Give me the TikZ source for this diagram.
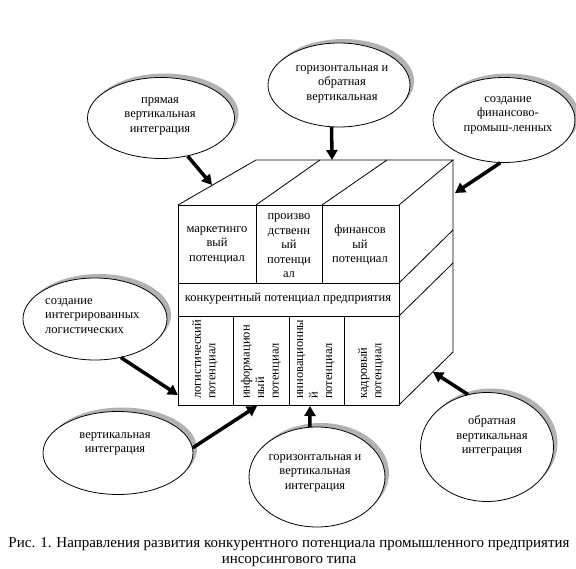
\documentclass[tikz,border=0pt]{standalone}
\usepackage{fontspec}
\setmainfont{Liberation Serif}
\usetikzlibrary{shapes.geometric,shadows,arrows.meta}

\begin{document}
\begin{tikzpicture}[x=1pt,y=-1pt,
  bubble/.style={ellipse,draw,line width=0.8pt,fill=white,inner sep=0pt,
    drop shadow={shadow xshift=4pt,shadow yshift=4pt,fill=gray!60,opacity=1}},
  bubbletext/.style={font=\fontsize{12.5}{14.5}\selectfont,align=center,inner sep=0pt},
  celltext/.style={font=\fontsize{12.5}{14.5}\selectfont,align=center,inner sep=0pt},
  upright/.style={celltext,align=left,rotate=90,anchor=west},
  push/.style={line width=3.5pt,-{Triangle[length=10pt,width=11pt]}}]

  \useasboundingbox (0,0) rectangle (576,569);

  \pgfmathsetmacro\fl{178}   % front face, left and right
  \pgfmathsetmacro\fr{399}
  \pgfmathsetmacro\ft{205}   % front face, top and bottom
  \pgfmathsetmacro\fb{405}
  \pgfmathsetmacro\ra{283}   % row borders on the front
  \pgfmathsetmacro\rb{316}
  \pgfmathsetmacro\bt{160}   % back edge of the top face
  \pgfmathsetmacro\bl{256}
  \pgfmathsetmacro\br{453}

% front face
  \draw[line width=0.8pt] (\fl,\ft) rectangle (\fr,\fb);
  \draw[line width=0.8pt] (\fl,\ra) -- (\fr,\ra);
  \draw[line width=0.8pt] (\fl,\rb) -- (\fr,\rb);
  \draw[line width=0.8pt] (256,\ft) -- (256,\ra);
  \draw[line width=0.8pt] (322,\ft) -- (322,\ra);
  \draw[line width=0.8pt] (233,\rb) -- (233,\fb);
  \draw[line width=0.8pt] (289,\rb) -- (289,\fb);
  \draw[line width=0.8pt] (344,\rb) -- (344,\fb);

% top face
  \draw[line width=0.8pt] (\fl,\ft) -- (\bl,\bt) -- (\br,\bt) -- (\fr,\ft);
  \draw[line width=0.8pt] (256,\ft) -- (320,\bt);
  \draw[line width=0.8pt] (322,\ft) -- (387,\bt);

% side face
  \draw[line width=0.8pt] (\br,\bt) -- (\br,352) -- (\fr,\fb);
  \draw[line width=0.8pt] (\fr,\ra) -- (\br,230);
  \draw[line width=0.8pt] (\fr,\rb) -- (\br,263);

% texts on the cube
  \node[celltext] (mark) at (217,245) {маркетинго\\вый\\потенциал};
  \node[celltext] (prod) at (289,246) {произво\\дственн\\ый\\потенци\\ал};
  \node[celltext] (fin)  at (360,245) {финансов\\ый\\потенциал};
  \node[celltext] (konk) at (288,299) {конкурентный потенциал предприятия};
  \node[upright]  (log)  at (205,399) {логистический\\потенциал};
  \node[upright]  (inf)  at (261,399) {информацион\\ный\\потенциал};
  \node[upright]  (inn)  at (316,399) {инновационны\\й\\потенциал};
  \node[upright]  (kadr) at (371,399) {кадровый\\потенциал};

% arrow ends on the cube
  \coordinate (tpryam) at (212,185);
  \coordinate (tgoriz) at (332,160);
  \coordinate (tfin)   at (455,193);
  \coordinate (tlog)   at (178,395);
  \coordinate (tvert)  at (257,406);
  \coordinate (tgv)    at (310,406);
  \coordinate (tobr)   at (433,372);

% directions
  \node[bubble,minimum width=147pt,minimum height=81pt] (pryam) at (161,118) {};
  \node[bubbletext] (pryamtext) at (160,116) {прямая\\вертикальная\\интеграция};

  \node[bubble,minimum width=142pt,minimum height=84pt] (goriz) at (339,85) {};
  \node[bubbletext] (goriztext) at (342,84) {горизонтальная и\\обратная\\вертикальная};

  \node[bubble,minimum width=142pt,minimum height=85pt] (finprom) at (504,120) {};
  \node[bubbletext] (finpromtext) at (508,115) {создание\\финансово-\\промыш-ленных};

  \node[bubble,minimum width=144pt,minimum height=82pt] (logist) at (95,319) {};
  \node[bubbletext,align=left,anchor=west] (logisttext) at (45,316) {создание\\интегрированных\\логистических};

  \node[bubble,minimum width=150pt,minimum height=83pt] (vert) at (118,453) {};
  \node[bubbletext] (verttext) at (115,444) {вертикальная\\интеграция};

  \node[bubble,minimum width=136pt,minimum height=100pt] (gv) at (317,477) {};
  \node[bubbletext] (gvtext) at (315,473) {горизонтальная и\\вертикальная\\интеграция};

  \node[bubble,minimum width=133pt,minimum height=109pt] (obr) at (487,447) {};
  \node[bubbletext] (obrtext) at (492,436) {обратная\\вертикальная\\интеграция};

% arrows
  \draw[push] (pryam.-55)   -- (tpryam);
  \draw[push] (goriz.-100)  -- (tgoriz);
  \draw[push] (finprom.-95) -- (tfin);
  \draw[push] (logist.-56)  -- (tlog);
  \draw[push] (vert.4)      -- (tvert);
  \draw[push] (gv.98)       -- (tgv);
  \draw[push] (obr.110)     -- (tobr);

% caption
  \node[font=\fontsize{15}{16}\selectfont,align=center,inner sep=0pt] (caption) at (289,552)
    {Рис. 1. Направления развития конкурентного потенциала промышленного предприятия\\инсорсингового типа};

\end{tikzpicture}
\end{document}
